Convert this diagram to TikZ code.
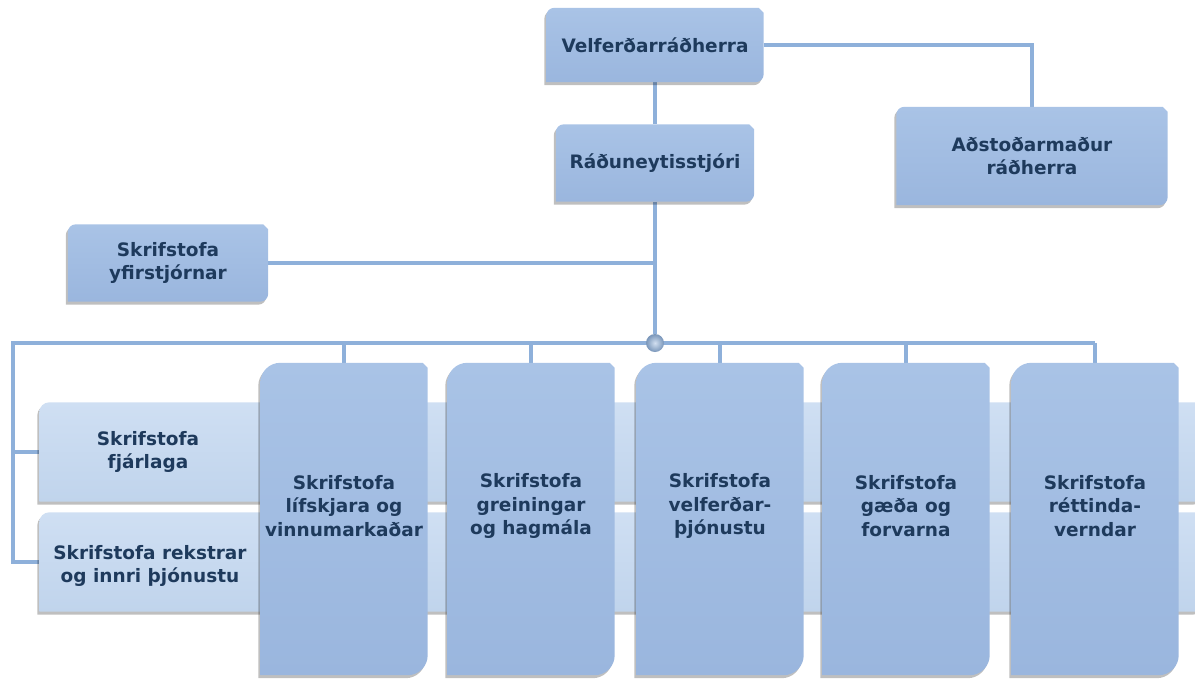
\documentclass[tikz,border=0pt]{standalone}
\usepackage{fontspec}
\setmainfont{DejaVu Sans}
\usetikzlibrary{calc}
\definecolor{boxtop}{HTML}{A9C3E6}
\definecolor{boxbot}{HTML}{9AB6DE}
\definecolor{bandtop}{HTML}{CFDFF3}
\definecolor{bandbot}{HTML}{C0D4EC}
\definecolor{linkblue}{HTML}{8EB0DA}
\definecolor{inkblue}{HTML}{1E3A5C}
\pgfdeclarelayer{wires}
\pgfdeclarelayer{shapes}
\pgfsetlayers{wires,shapes,main}
\newcommand{\blobpath}[2]{(#1.south west) -- ($(#1.north west)+(0,-#2)$) arc[start angle=180,end angle=90,radius=#2pt] -- ($(#1.north east)+(-5,0)$) -- ($(#1.north east)+(0,-5)$) -- ($(#1.south east)+(0,#2)$) arc[start angle=0,end angle=-90,radius=#2pt] -- cycle}
\newcommand{\blob}[4]{%
  \fill[black,opacity=.25,transform canvas={shift={(-2pt,-3pt)}}] \blobpath{#1}{#2};
  \shade[top color=#3,bottom color=#4] \blobpath{#1}{#2};}

\begin{document}
\begin{tikzpicture}[x=1pt, y=1pt,
    orgbox/.style={inner sep=0pt, text=inkblue, font=\bfseries\fontsize{18.5}{23.5}\selectfont, align=center},
    orgtext/.style={text=inkblue, font=\bfseries\fontsize{18.5}{23.5}\selectfont, align=center},
    wire/.style={draw=linkblue, line width=3.8pt},
    hubdot/.style={circle, minimum size=18pt, inner sep=0pt, inner color=linkblue!40!white, outer color=linkblue!85!black}]
    \useasboundingbox (0,0) rectangle (1195,-681);
    \node[orgbox, minimum width=217, minimum height=74] (minister) at (655,-45) {Velferðarráðherra};
    \node[orgbox, minimum width=198, minimum height=77] (secgen) at (655,-163) {Ráðuneytisstjóri};
    \node[orgbox, minimum width=271, minimum height=98] (assistant) at (1032,-156) {Aðstoðarmaður\\ráðherra};
    \node[orgbox, minimum width=200, minimum height=77] (yfir) at (168,-263) {Skrifstofa\\yfirstjórnar};
    \node[orgbox, minimum width=1165, minimum height=99] (budgetband) at (622,-452) {};
    \node[orgbox, minimum width=1165, minimum height=99] (opsband) at (622,-562) {};
    \node[orgtext] (budget) at (148,-452) {Skrifstofa\\fjárlaga};
    \node[orgtext] (ops) at (150,-566) {Skrifstofa rekstrar\\og innri þjónustu};
    \node[orgbox, minimum width=167, minimum height=312] (col1) at (344,-519) {};
    \node[orgbox, minimum width=167, minimum height=312] (col2) at (531,-519) {};
    \node[orgbox, minimum width=167, minimum height=312] (col3) at (720,-519) {};
    \node[orgbox, minimum width=167, minimum height=312] (col4) at (906,-519) {};
    \node[orgbox, minimum width=167, minimum height=312] (col5) at (1095,-519) {};
    \node[orgtext] (col1t) at (344,-506) {Skrifstofa\\lífskjara og\\vinnumarkaðar};
    \node[orgtext] (col2t) at (531,-506) {Skrifstofa\\greiningar\\og hagmála};
    \node[orgtext] (col3t) at (720,-506) {Skrifstofa\\velferðar-\\þjónustu};
    \node[orgtext] (col4t) at (906,-506) {Skrifstofa\\gæða og\\forvarna};
    \node[orgtext] (col5t) at (1095,-506) {Skrifstofa\\réttinda-\\verndar};
    \node[hubdot] (hub) at (655,-343) {};
    \coordinate (busL) at (13,-343);
    \begin{pgfonlayer}{shapes}
      \blob{minister}{8}{boxtop}{boxbot}
      \blob{secgen}{8}{boxtop}{boxbot}
      \blob{assistant}{8}{boxtop}{boxbot}
      \blob{yfir}{8}{boxtop}{boxbot}
      \blob{budgetband}{10}{bandtop}{bandbot}
      \blob{opsband}{10}{bandtop}{bandbot}
      \foreach \c in {col1,col2,col3,col4,col5}
        {\blob{\c}{20}{boxtop}{boxbot}}
    \end{pgfonlayer}
    \begin{pgfonlayer}{wires}
      \draw[wire] (minister.east) -| (assistant.north);
      \draw[wire] (minister.south) -- (secgen.north);
      \draw[wire] (secgen.south) -- (hub);
      \draw[wire] (yfir.east) -- (yfir.east -| hub);
      \draw[wire] (col5.north |- hub) -- (busL) |- (opsband.west);
      \draw[wire] (busL |- budgetband.west) -- (budgetband.west);
      \foreach \c in {col1,col2,col3,col4,col5}
        \draw[wire] (\c.north |- hub) -- (\c.north);
    \end{pgfonlayer}
  \end{tikzpicture}
\end{document}
